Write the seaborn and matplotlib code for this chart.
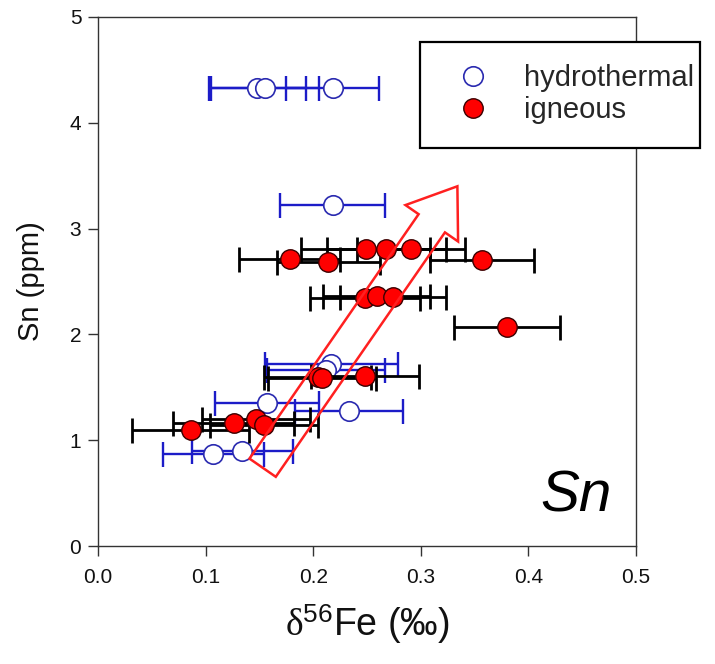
import matplotlib
matplotlib.use("Agg")
import matplotlib.pyplot as plt
import seaborn as sns
import numpy as np
import pandas as pd
from matplotlib.patches import Polygon, Rectangle
from matplotlib.lines import Line2D

# ---------------- data ----------------
hydro_x = [0.148, 0.155, 0.218, 0.218, 0.217, 0.212, 0.157, 0.233, 0.107, 0.134]
hydro_y = [4.33, 4.33, 4.33, 3.22, 1.72, 1.66, 1.35, 1.28, 0.87, 0.90]
hydro_xerr = [0.045, 0.050, 0.043, 0.049, 0.062, 0.055, 0.048, 0.050, 0.047, 0.047]

ign_x = [0.178, 0.214, 0.249, 0.268, 0.291, 0.357, 0.248, 0.259, 0.274, 0.380,
         0.204, 0.208, 0.248, 0.086, 0.126, 0.147, 0.154]
ign_y = [2.71, 2.68, 2.81, 2.81, 2.81, 2.70, 2.34, 2.36, 2.35, 2.07,
         1.60, 1.59, 1.61, 1.10, 1.16, 1.20, 1.14]
ign_xerr = [0.047, 0.048, 0.060, 0.055, 0.050, 0.048, 0.051, 0.050, 0.049, 0.049,
            0.050, 0.050, 0.050, 0.054, 0.056, 0.050, 0.050]

x_ticks = [0.0, 0.1, 0.2, 0.3, 0.4, 0.5]
y_ticks = [0, 1, 2, 3, 4, 5]
series_labels = ["hydrothermal", "igneous"]

# arrow (trend) tail and tip in data units
arrow_tail = (0.153, 0.74)
arrow_tip = (0.334, 3.40)

hydro = pd.DataFrame({"x": hydro_x, "y": hydro_y, "xerr": hydro_xerr})
ign = pd.DataFrame({"x": ign_x, "y": ign_y, "xerr": ign_xerr})

# ---------------- style ----------------
sns.set_style("ticks")
plt.rcParams["font.family"] = ["Liberation Sans", "DejaVu Sans"]
plt.rcParams["mathtext.fontset"] = "custom"
plt.rcParams["mathtext.rm"] = "Liberation Serif"
plt.rcParams["mathtext.it"] = "Liberation Serif:italic"
plt.rcParams["mathtext.sf"] = "Liberation Sans"

fig = plt.figure(figsize=(7.15, 6.64), dpi=100)
ax = fig.add_axes([98 / 715, 1 - 546 / 664, 538 / 715, 529 / 664])

blue = "#1c1cc8"
ax.errorbar(hydro["x"], hydro["y"], xerr=hydro["xerr"], fmt="none",
            ecolor=blue, elinewidth=1.7, capsize=9, capthick=1.7, zorder=2)
sns.scatterplot(data=hydro, x="x", y="y", ax=ax, marker="o", s=14 ** 2,
                color="white", edgecolor="#2a2ab0", linewidth=1.2, zorder=3,
                legend=False)
ax.errorbar(ign["x"], ign["y"], xerr=ign["xerr"], fmt="none",
            ecolor="black", elinewidth=2.0, capsize=9, capthick=2.0, zorder=4)
sns.scatterplot(data=ign, x="x", y="y", ax=ax, marker="o", s=14 ** 2,
                color="#ff0000", edgecolor="#3a0000", linewidth=1.0, zorder=5,
                legend=False)

ax.set_xlim(0, 0.5)
ax.set_ylim(0, 5)
ax.set_xticks(x_ticks)
ax.set_xticklabels([f"{v:.1f}" for v in x_ticks])
ax.set_yticks(y_ticks)
ax.set_yticklabels([str(v) for v in y_ticks])

for s in ax.spines.values():
    s.set_color("#333333")
    s.set_linewidth(1.0)
ax.tick_params(axis="both", direction="out", length=7, width=1.0,
               colors="#333333", labelcolor="#111111", labelsize=15)
ax.tick_params(axis="x", pad=9)
ax.tick_params(axis="y", pad=5)

ax.set_ylabel("Sn (ppm)", fontsize=21, labelpad=18, color="#111111")
ax.set_xlabel(r"$\mathrm{\delta}^{\mathsf{56}}$Fe (‰)", fontsize=27,
              labelpad=11, color="#111111")

# ---------------- arrow ----------------
fig.canvas.draw()
T = ax.transData.transform(arrow_tail)
P = ax.transData.transform(arrow_tip)
u = (P - T) / np.hypot(*(P - T))
n = np.array([u[1], -u[0]])
n = n if n[0] > 0 else -n
w, hw, hl = 16, 32, 45
B = P - hl * u
pts = [T - w * n, B - w * n, B - hw * n, P, B + hw * n, B + w * n, T + w * n]
pts_ax = ax.transAxes.inverted().transform(np.array(pts))
ax.add_patch(Polygon(pts_ax, closed=True, fill=False, edgecolor="#ff2020",
                     linewidth=1.8, transform=ax.transAxes, zorder=6))

# ---------------- label ----------------
ax.text((540 - 98) / 538, (546 - 512) / 529, "Sn", transform=ax.transAxes,
        fontsize=42, style="italic", ha="left", va="baseline", color="black")

# ---------------- legend ----------------
fig.patches.append(Rectangle((420 / 715, 1 - 148 / 664), 280 / 715, 106 / 664,
                             transform=fig.transFigure, facecolor="white",
                             edgecolor="black", linewidth=1.6, zorder=10))
handles = [
    Line2D([], [], linestyle="none", marker="o", markersize=14,
           markerfacecolor="white", markeredgecolor="#2a2ab0", markeredgewidth=1.2),
    Line2D([], [], linestyle="none", marker="o", markersize=14,
           markerfacecolor="#ff0000", markeredgecolor="#3a0000", markeredgewidth=1.0),
]
leg = fig.legend(handles, series_labels, loc="upper left",
                 bbox_to_anchor=(458 / 715, 1 - 64 / 664), frameon=False,
                 fontsize=21, handlelength=1.0, handletextpad=1.25,
                 borderpad=0, borderaxespad=0, labelspacing=0.15)
leg.set_zorder(11)

fig.savefig("out.png", dpi=100)
